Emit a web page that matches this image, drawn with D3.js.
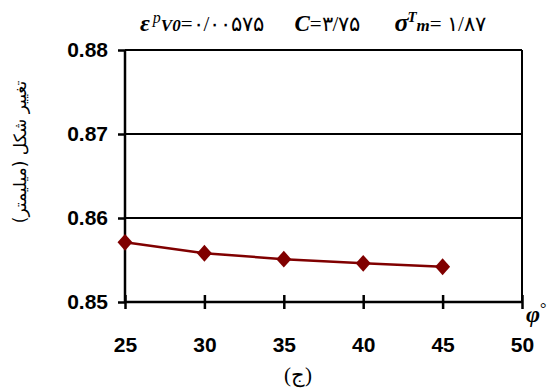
<!DOCTYPE html>
<html>
<head>
<meta charset="utf-8">
<script src="https://cdn.jsdelivr.net/npm/d3@7"></script>
<style>
body { margin: 0; background: #fff; }
</style>
</head>
<body>
<div id="chart"></div>
<script>
var angles = [25, 30, 35, 40, 45];
var deform = [0.8571, 0.8558, 0.8551, 0.8546, 0.8542];
var xTicks = [25, 30, 35, 40, 45, 50];
var yTicks = [0.85, 0.86, 0.87, 0.88];

var width = 555, height = 389;
var margin = { left: 125, right: 33, top: 50, bottom: 87 };
var w = width - margin.left - margin.right;
var h = height - margin.top - margin.bottom;

var svg = d3.select('#chart').append('svg')
    .attr('width', width)
    .attr('height', height);

var x = d3.scaleLinear().domain([25, 50]).range([0, w]);
var y = d3.scaleLinear().domain([0.85, 0.88]).range([h, 0]);

var g = svg.append('g')
    .attr('transform', 'translate(' + margin.left + ',' + margin.top + ')');

// gridlines
g.selectAll('line.grid').data(yTicks.slice(1))
    .enter().append('line')
    .attr('x1', 0).attr('x2', w)
    .attr('y1', function (d) { return y(d); })
    .attr('y2', function (d) { return y(d); })
    .attr('stroke', '#000').attr('stroke-width', 2);

// right border
g.append('line')
    .attr('x1', w).attr('x2', w).attr('y1', 0).attr('y2', h)
    .attr('stroke', '#000').attr('stroke-width', 2);

var yAxis = d3.axisLeft(y).tickValues(yTicks).tickFormat(d3.format('.2f')).tickSize(7).tickPadding(10);
var xAxis = d3.axisBottom(x).tickValues(xTicks).tickSize(7).tickPadding(28);

var ya = g.append('g').call(yAxis);
var xa = g.append('g').attr('transform', 'translate(0,' + h + ')').call(xAxis);

[ya, xa].forEach(function (a) {
    a.select('.domain').attr('stroke', '#000').attr('stroke-width', 2.5);
    a.selectAll('.tick line').attr('stroke', '#000').attr('stroke-width', 2.5);
    a.selectAll('.tick text')
        .attr('fill', '#000')
        .style('font-family', '"Liberation Sans", Arial, sans-serif')
        .style('font-weight', 'bold')
        .style('font-size', '21px');
});
// x ticks cross the axis
xa.selectAll('.tick line').attr('y1', -7);
xa.select('.domain').attr('d', 'M0,0H' + w);
ya.select('.domain').attr('d', 'M0,0V' + h);

var line = d3.line()
    .x(function (d, i) { return x(angles[i]); })
    .y(function (d) { return y(d); });

g.append('path').attr('d', line(deform))
    .attr('fill', 'none')
    .attr('stroke', '#800000')
    .attr('stroke-width', 2.5);

g.selectAll('path.pt').data(deform)
    .enter().append('path')
    .attr('d', d3.symbol().type(d3.symbolSquare).size(112))
    .attr('transform', function (d, i) {
        return 'translate(' + x(angles[i]) + ',' + y(d) + ') scale(1,1.13) rotate(45)';
    })
    .attr('fill', '#800000');

// title
var t = svg.append('text')
    .attr('x', 140).attr('y', 31)
    .style('font-family', '"Liberation Serif", "DejaVu Serif", serif')
    .style('font-size', '21px');
t.append('tspan').text('ε').style('font-weight', 'bold').style('font-style', 'italic').style('font-size', '24px');
t.append('tspan').text('p').attr('dx', 3).attr('dy', -8).style('font-style', 'italic').style('font-size', '16px');
t.append('tspan').text('V0').attr('dy', 8).style('font-weight', 'bold').style('font-style', 'italic').style('font-size', '17px');
t.append('tspan').text('=۰/۰۰۵۷۵');
t.append('tspan').text('C').attr('dx', 30).style('font-weight', 'bold').style('font-style', 'italic').style('font-size', '23px');
t.append('tspan').text('=۳/۷۵');
t.append('tspan').text('σ').attr('dx', 34).style('font-weight', 'bold').style('font-style', 'italic').style('font-size', '26px');
t.append('tspan').text('T').attr('dy', -9).attr('dx', -1).style('font-weight', 'bold').style('font-style', 'italic').style('font-size', '15px');
t.append('tspan').text('m').attr('dy', 9).style('font-weight', 'bold').style('font-style', 'italic').style('font-size', '17px');
t.append('tspan').text('= ۱/۸۷');

// y axis title
svg.append('text')
    .attr('transform', 'translate(26,152) rotate(-90)')
    .attr('text-anchor', 'middle')
    .attr('direction', 'rtl')
    .style('font-family', '"DejaVu Sans", sans-serif')
    .style('font-size', '17px')
    .text('تغییر شکل (میلیمتر)');

// x axis title
var xt = svg.append('text')
    .attr('x', 526).attr('y', 322)
    .style('font-family', '"Liberation Serif", serif')
    .style('font-weight', 'bold').style('font-style', 'italic')
    .style('font-size', '24px');
xt.append('tspan').text('φ');
xt.append('tspan').text('°').attr('dy', -8).style('font-size', '16px').style('font-style', 'normal').style('font-weight', 'normal');

// caption
svg.append('text')
    .attr('x', 298).attr('y', 382)
    .attr('text-anchor', 'middle')
    .style('font-family', '"Liberation Serif", "DejaVu Serif", serif')
    .style('font-size', '21px')
    .text('(ج)');
</script>
</body>
</html>
